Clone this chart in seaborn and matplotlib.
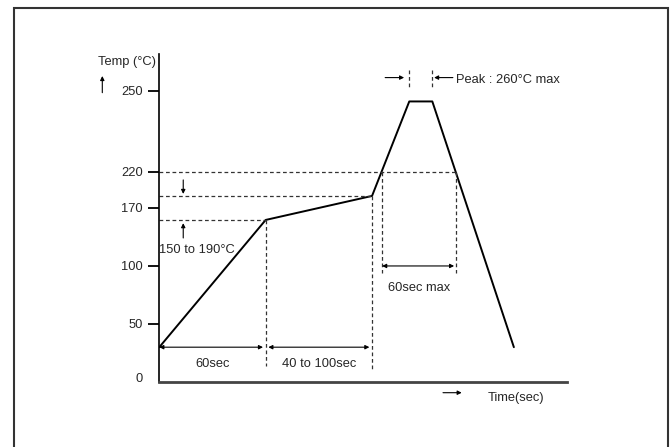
import numpy as np
import matplotlib
matplotlib.use("Agg")
import matplotlib.pyplot as plt
import matplotlib.transforms as mtransforms
import seaborn as sns
import pandas as pd
from matplotlib.patches import Rectangle

# reflow soldering profile (schematic), time in sec, temperature in degC
profile_time = [0, 60, 120, 141, 154, 200]
profile_temp = [30, 150, 190, 246, 246, 30]

temp_ticks = [0, 50, 100, 170, 220, 250]
tick_labels = ["0", "50", "100", "170", "220", "250"]

# the drawing's temperature axis is not linear: temperature -> drawn height
scale_temp = [-100, 0, 50, 100, 150, 190, 220, 250, 400]
scale_height = [-116, 0, 58, 116, 162, 186, 210, 291.3, 697.8]

preheat_low, preheat_high = 150, 190
reflow_level = 220
ramp_end, preheat_end = 60, 120
above_reflow = [125.4, 167.3]   # where the curve crosses 220 degC
peak_window = [141, 154]


def fwd(t):
    return np.interp(t, scale_temp, scale_height)


def inv(h):
    return np.interp(h, scale_height, scale_temp)


sns.set_style("white")
plt.rcParams["font.family"] = ["Liberation Sans", "DejaVu Sans"]
plt.rcParams["font.size"] = 9.3

fig = plt.figure(figsize=(6.71, 4.47), dpi=100)
ax = fig.add_axes([159.3 / 671, 65 / 447, 407.4 / 671, 328 / 447])
ax.set_yscale("function", functions=(fwd, inv))

df = pd.DataFrame({"time": profile_time, "temp": profile_temp})
sns.lineplot(data=df, x="time", y="temp", sort=False, estimator=None,
             color="black", lw=1.4, ax=ax)

ax.set_xlim(0, 229.8)
ax.set_ylim(0, 263.5)
ax.set_xlabel("")
ax.set_ylabel("")
ax.set_xticks([])
ax.set_yticks(temp_ticks)
ax.set_yticklabels(tick_labels)
ax.tick_params(axis="y", length=8, width=1.3, pad=4, color="black",
               labelsize=9.3, left=True)
for side in ["top", "right"]:
    ax.spines[side].set_visible(False)
ax.spines["left"].set_color("black")
ax.spines["left"].set_linewidth(1.2)
ax.spines["bottom"].set_color("#444444")
ax.spines["bottom"].set_linewidth(2)

# the "0" label has no tick mark and sits a little higher
zero_tick = ax.yaxis.get_major_ticks()[0]
zero_tick.tick1line.set_visible(False)
zero_tick.label1.set_transform(zero_tick.label1.get_transform() +
                               mtransforms.ScaledTranslation(0, 4 / 100, fig.dpi_scale_trans))

dash = dict(color="#333333", lw=0.9, ls=(0, (3, 2.2)))

# reference levels
ax.plot([0, above_reflow[1]], [reflow_level] * 2, **dash)
ax.plot([0, preheat_end], [preheat_high] * 2, **dash)
ax.plot([0, ramp_end], [preheat_low] * 2, **dash)

# vertical guides
ax.plot([ramp_end] * 2, [preheat_low, 13.8], **dash)
ax.plot([preheat_end] * 2, [preheat_high, 11], **dash)
for t in above_reflow:
    ax.plot([t] * 2, [reflow_level, 94], **dash)
for t in peak_window:
    ax.plot([t] * 2, [257.6, 251], **dash)

arr = dict(arrowstyle="-|>", color="black", lw=0.8, mutation_scale=6,
           shrinkA=0, shrinkB=0)
darr = dict(arrowstyle="<|-|>", color="black", lw=0.8, mutation_scale=6,
            shrinkA=0, shrinkB=0)

# time spans
ax.annotate("", xy=(ramp_end - 1.5, 30), xytext=(0, 30), arrowprops=darr)
ax.annotate("", xy=(preheat_end - 1.5, 30), xytext=(ramp_end + 1.5, 30),
            arrowprops=darr)
ax.annotate("", xy=(above_reflow[1] - 1, 100), xytext=(above_reflow[0] + 0.3, 100),
            arrowprops=darr)
ax.text(30, 15.5, "60sec", ha="center", va="center")
ax.text(90, 15.5, "40 to 100sec", ha="center", va="center")
ax.text(146.3, 81.3, "60sec max", ha="center", va="center")

# preheat range arrows
ax.annotate("", xy=(13.5, 192.5), xytext=(13.5, 210), arrowprops=arr)
ax.annotate("", xy=(13.5, 146.5), xytext=(13.5, 130.4), arrowprops=arr)
ax.text(21.3, 117.4, "150 to 190°C", ha="center", va="center")

# peak window arrows
ax.annotate("", xy=(138.1, 254.8), xytext=(127.4, 254.8), arrowprops=arr)
ax.annotate("", xy=(155.0, 254.8), xytext=(165.6, 254.8), arrowprops=arr)
ax.text(167.4, 254.0, "Peak : 260°C max", ha="left", va="center")

# axis captions outside the axes
fig.text(127 / 671, 1 - 62 / 447, "Temp (°C)", ha="center", va="center")
ax.annotate("", xy=(102.3, 447 - 76), xytext=(102.3, 447 - 92.7),
            xycoords="figure pixels", textcoords="figure pixels", arrowprops=arr)
fig.text(487.7 / 671, 1 - 397.7 / 447, "Time(sec)", ha="left", va="center")
ax.annotate("", xy=(461.7, 447 - 392.7), xytext=(443, 447 - 392.7),
            xycoords="figure pixels", textcoords="figure pixels", arrowprops=arr)

# outer frame, open at the bottom edge of the picture
fig.patches.append(Rectangle((13.7 / 671, -0.02), 654 / 671, 1.02 - 8.3 / 447,
                             transform=fig.transFigure, fill=False,
                             edgecolor="#333333", lw=1.5))

fig.savefig("out.png", dpi=100)
